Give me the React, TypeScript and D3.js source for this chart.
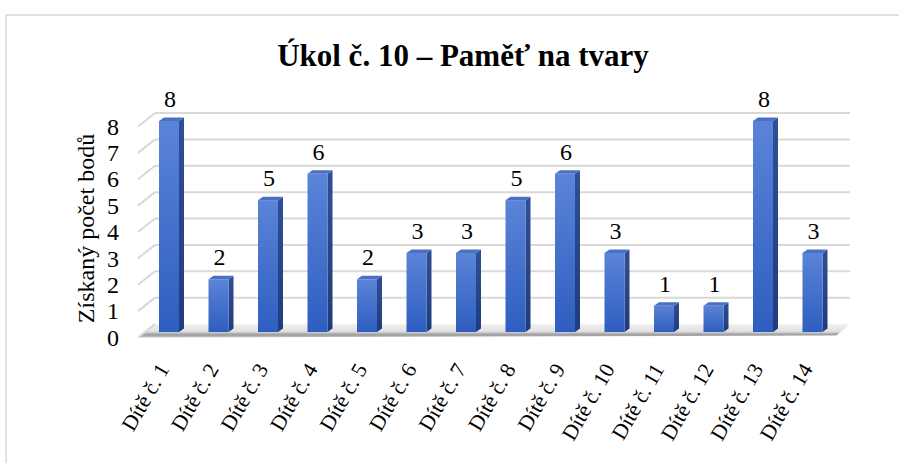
import * as d3 from "d3";

const categories = [
  "Dítě č. 1", "Dítě č. 2", "Dítě č. 3", "Dítě č. 4", "Dítě č. 5", "Dítě č. 6", "Dítě č. 7",
  "Dítě č. 8", "Dítě č. 9", "Dítě č. 10", "Dítě č. 11", "Dítě č. 12", "Dítě č. 13", "Dítě č. 14",
];
const values = [8, 2, 5, 6, 2, 3, 3, 5, 6, 3, 1, 1, 8, 3];
const yTicks = [0, 1, 2, 3, 4, 5, 6, 7, 8];
const title = "Úkol č. 10 – Paměť na tvary";
const yTitle = "Získaný počet bodů";

const W = 899;
const H = 463;
const serif = { fontFamily: "Liberation Serif" };

// 3D depth of the plot box (back wall -> front edge)
const DX = -17;
const DY = 13.5;
const barW = 20;
const barDX = 5;
const barDY = -3.5;

export default function App() {
  const x = d3.scaleBand<string>().domain(categories).range([144.25, 837.25]).padding(0);
  const yBack = d3.scaleLinear().domain([0, 8]).range([324, 113]);
  const yBar = d3.scaleLinear().domain([0, 8]).range([332, 121]);
  const backLeft = 155;
  const backRight = 850;
  const barX = (c: string) => (x(c) ?? 0) + (x.step() - barW) / 2;
  const mid = (c: string) => (x(c) ?? 0) + x.step() / 2;

  const floorY = yBack(0);
  const floor = [
    [backLeft, floorY],
    [backRight, floorY],
    [backRight + DX * 0.8, floorY + DY * 0.85],
    [backLeft + DX, floorY + DY],
  ];

  return (
    <svg width={W} height={H} style={{ position: "absolute", left: 0, top: 0, background: "#fff" }}>
      <defs>
        <linearGradient id="front" x1="0" y1="0" x2="0" y2="1">
          <stop offset="0" stopColor="#5b84d8" />
          <stop offset="1" stopColor="#2e5ec0" />
        </linearGradient>
        <linearGradient id="side" x1="0" y1="0" x2="0" y2="1">
          <stop offset="0" stopColor="#2f4f96" />
          <stop offset="1" stopColor="#1f3c7c" />
        </linearGradient>
        <linearGradient id="floorG" x1="0" y1="0" x2="0" y2="1">
          <stop offset="0" stopColor="#f2f2f2" />
          <stop offset="0.55" stopColor="#e0e0e0" />
          <stop offset="0.8" stopColor="#9a9a9a" />
          <stop offset="1" stopColor="#c8c8c8" />
        </linearGradient>
      </defs>

      <rect x={6} y={15} width={W} height={H} fill="none" stroke="#d9d9d9" strokeWidth={1.5} />

      <text x={463} y={66} textAnchor="middle" style={serif} fontWeight="bold" fontSize={31}>
        {title}
      </text>

      {/* floor */}
      <polygon points={floor.map((p) => p.join(",")).join(" ")} fill="url(#floorG)" />

      {/* gridlines: back wall + left side wall */}
      {yTicks.map((t) => (
        <g key={t} stroke="#d9d9d9" strokeWidth={2} fill="none">
          {t > 0 && <line x1={backLeft} x2={backRight} y1={yBack(t)} y2={yBack(t)} />}
          <line x1={backLeft + DX} y1={yBack(t) + DY} x2={backLeft} y2={yBack(t)} />
        </g>
      ))}

      {/* y tick labels */}
      {yTicks.map((t) => (
        <text key={t} x={119} y={yBack(t) + DY} dy="0.34em" textAnchor="end" style={serif} fontSize={24}>
          {t}
        </text>
      ))}

      <text
        transform={`translate(86,${(yBack(0) + yBack(8)) / 2 + 10}) rotate(-90)`}
        textAnchor="middle"
        dy="0.34em"
        style={serif}
        fontSize={24}
      >
        {yTitle}
      </text>

      {/* bars */}
      {categories.map((c, i) => {
        const x0 = barX(c);
        const y0 = yBar(0);
        const y1 = yBar(values[i]);
        return (
          <g key={c}>
            <polygon
              points={`${x0 + barW},${y1} ${x0 + barW + barDX},${y1 + barDY} ${x0 + barW + barDX},${y0 + barDY} ${x0 + barW},${y0}`}
              fill="url(#side)"
            />
            <polygon
              points={`${x0},${y1} ${x0 + barDX},${y1 + barDY} ${x0 + barW + barDX},${y1 + barDY} ${x0 + barW},${y1}`}
              fill="#4a70c4"
            />
            <rect x={x0} y={y1} width={barW} height={y0 - y1} fill="url(#front)" />
            <text x={x0 + barW / 2 + 1} y={y1 - 14} textAnchor="middle" style={serif} fontSize={24}>
              {values[i]}
            </text>
          </g>
        );
      })}

      {/* x labels */}
      {categories.map((c) => (
        <text
          key={c}
          transform={`translate(${mid(c) + 1},369) rotate(-60)`}
          textAnchor="end"
          style={serif}
          fontSize={21.5}
        >
          {c}
        </text>
      ))}
    </svg>
  );
}
